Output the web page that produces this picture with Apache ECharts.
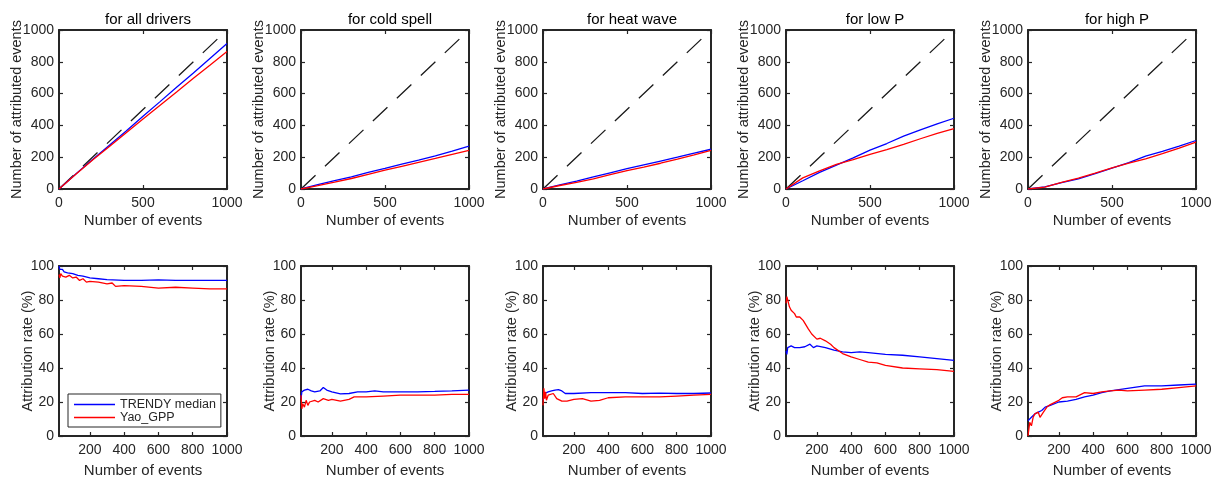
<!DOCTYPE html>
<html>
<head>
<meta charset="utf-8">
<script src="https://cdn.jsdelivr.net/npm/echarts@6/dist/echarts.min.js"></script>
<style>
  html, body { margin: 0; padding: 0; background: #fff; }
  #chart { width: 1218px; height: 479px; }
</style>
</head>
<body>
<div id="chart"></div>
<script>
// panel titles
const titles = ['for all drivers', 'for cold spell', 'for heat wave', 'for low P', 'for high P'];

// top row: cumulative number of attributed events, read at every 100 events
const countX = [0, 100, 200, 300, 400, 500, 600, 700, 800, 900, 1000];
const countTrendyAll = [0, 95, 185, 275, 365, 457, 548, 640, 730, 822, 915];
const countYaoAll = [0, 93, 182, 268, 354, 440, 525, 610, 697, 780, 865];
const countTrendyCold = [0, 27, 52, 76, 104, 130, 157, 182, 208, 238, 270];
const countYaoCold = [0, 21, 43, 66, 92, 118, 143, 168, 192, 218, 243];
const countTrendyHeat = [0, 26, 50, 76, 102, 128, 152, 176, 200, 226, 250];
const countYaoHeat = [0, 22, 42, 63, 90, 115, 138, 162, 188, 215, 243];
const countTrendyLowP = [0, 52, 105, 150, 196, 245, 286, 332, 372, 410, 445];
const countYaoLowP = [0, 70, 114, 155, 185, 218, 248, 280, 316, 350, 380];
const countTrendyHighP = [0, 14, 40, 64, 96, 132, 166, 207, 236, 270, 305];
const countYaoHighP = [0, 12, 42, 69, 100, 133, 162, 190, 222, 257, 295];

// bottom row: attribution rate (%) as [events, rate]
const rateTrendyAll = [[20, 100], [25, 98], [30, 97], [40, 98], [50, 96.5], [60, 97], [70, 96], [80, 96.5],
  [100, 95.5], [130, 94.5], [160, 94], [200, 93], [250, 92.5], [300, 92], [400, 91.5], [500, 91.5],
  [600, 91.8], [700, 91.5], [800, 91.5], [900, 91.5], [1000, 91.5]];
const rateYaoAll = [[20, 95], [25, 93], [30, 95.5], [40, 94], [50, 95], [60, 93.5], [80, 94.5], [100, 93],
  [120, 93.5], [140, 91.5], [160, 92.5], [180, 90.5], [200, 91], [250, 90.5], [300, 89.5], [330, 90],
  [350, 88], [400, 88.5], [500, 88], [600, 87], [700, 87.5], [800, 87], [900, 86.5], [1000, 86.5]];
const rateTrendyCold = [[20, 22], [25, 26], [30, 25], [40, 27], [50, 28], [60, 27.5], [80, 26.5], [100, 26],
  [130, 26.5], [150, 28.5], [170, 27], [200, 26], [250, 24.8], [300, 25], [350, 26], [400, 26],
  [450, 26.5], [500, 26], [600, 26], [700, 26], [800, 26.2], [900, 26.5], [1000, 27]];
const rateYaoCold = [[20, 24], [25, 16], [30, 19], [40, 17], [50, 21], [60, 18], [70, 20], [80, 19.5],
  [100, 21], [120, 20], [150, 22], [180, 21], [200, 21.5], [250, 20.5], [300, 21.5], [330, 23],
  [400, 23], [500, 23.5], [600, 24], [700, 24], [800, 24], [900, 24.5], [1000, 24.5]];
const rateTrendyHeat = [[20, 21], [30, 25], [40, 24], [50, 26], [70, 26.5], [90, 27], [110, 27.3], [130, 26.5],
  [150, 25], [200, 25], [300, 25.5], [400, 25.5], [500, 25.5], [600, 25], [700, 25.2], [800, 25],
  [900, 25], [1000, 25.3]];
const rateYaoHeat = [[20, 18], [25, 28], [30, 22], [35, 26], [40, 21], [50, 24], [60, 23], [80, 25],
  [100, 22], [130, 20.5], [160, 20.5], [200, 21.5], [250, 22], [300, 20.5], [350, 21], [400, 22.5],
  [500, 23], [600, 23], [700, 23], [800, 23.5], [900, 24], [1000, 24.5]];
const rateTrendyLowP = [[20, 50], [25, 48], [30, 52], [40, 51], [50, 53], [60, 54], [70, 52], [80, 53],
  [100, 52], [130, 52.5], [160, 54], [180, 52], [200, 53], [250, 52], [300, 50.5], [350, 49.5],
  [400, 49], [450, 49.5], [500, 49], [600, 48], [700, 47.5], [800, 46.5], [900, 45.5], [1000, 44.5]];
const rateYaoLowP = [[20, 78], [25, 82], [30, 80], [40, 76], [50, 74], [60, 75], [70, 72], [80, 70],
  [100, 70], [120, 68], [150, 63], [170, 60], [200, 57], [220, 57.5], [250, 56], [280, 54], [300, 52],
  [350, 48.5], [400, 46.5], [450, 45], [500, 43.5], [550, 43], [600, 41.5], [700, 40], [800, 39.5],
  [900, 39], [1000, 38]];
const rateTrendyHighP = [[20, 9], [25, 10], [30, 8], [40, 11], [50, 10], [60, 13], [80, 14], [100, 15],
  [120, 17], [150, 18], [200, 20], [250, 20.5], [300, 21.5], [350, 23], [400, 24], [450, 25.5],
  [500, 26.5], [600, 28], [700, 29.5], [800, 29.5], [900, 30], [1000, 30.5]];
const rateYaoHighP = [[20, 0], [25, 4], [30, 8], [40, 6], [50, 11], [60, 13], [70, 12], [80, 14], [90, 11],
  [100, 12], [110, 14], [130, 17], [150, 18.5], [200, 21], [220, 22.5], [250, 23], [300, 23], [350, 25.5],
  [400, 25], [450, 26], [500, 26.5], [550, 27], [600, 26.5], [700, 27], [800, 27.5], [900, 28.5], [1000, 29.5]];

const countTrendy = [countTrendyAll, countTrendyCold, countTrendyHeat, countTrendyLowP, countTrendyHighP];
const countYao = [countYaoAll, countYaoCold, countYaoHeat, countYaoLowP, countYaoHighP];
const rateTrendy = [rateTrendyAll, rateTrendyCold, rateTrendyHeat, rateTrendyLowP, rateTrendyHighP];
const rateYao = [rateYaoAll, rateYaoCold, rateYaoHeat, rateYaoLowP, rateYaoHighP];
const diagonal = [[0, 0], [1000, 1000]];

const rateXTicks = [200, 400, 600, 800, 1000];

// layout
const panelLeft = [59, 301, 543, 786, 1028];
const panelWidth = 168;
const rowTop = [30, 266];
const rowHeight = [159, 171];

const font = 'Liberation Sans, Arial, sans-serif';
const ink = '#262626';

function zip(xs, ys) {
  return xs.map((x, i) => [x, ys[i]]);
}

function axisBase(pos, label) {
  return {
    type: 'value',
    position: pos,
    splitLine: { show: false },
    axisLine: { show: true, onZero: false, lineStyle: { color: ink, width: 2 } },
    axisTick: { show: true, inside: true, length: 4, lineStyle: { color: ink, width: 1.2 } },
    axisLabel: { show: label, color: ink, fontSize: 14, fontFamily: font, formatter: v => String(v) },
    nameTextStyle: { color: ink, fontSize: 15, fontFamily: font }
  };
}

function lineSeries(name, color, xi, yi, data) {
  return {
    name: name, type: 'line', xAxisIndex: xi, yAxisIndex: yi,
    data: data, symbol: 'none', showSymbol: false,
    lineStyle: { color: color, width: 1.3 }, itemStyle: { color: color }
  };
}

const grids = [], xAxes = [], yAxes = [], series = [], titleList = [];

for (let row = 0; row < 2; row++) {
  for (let p = 0; p < 5; p++) {
    const g = grids.length;
    grids.push({ left: panelLeft[p], top: rowTop[row], width: panelWidth, height: rowHeight[row] });

    // x axes (bottom with labels, top mirror)
    ['bottom', 'top'].forEach(pos => {
      const ax = axisBase(pos, pos === 'bottom');
      ax.gridIndex = g;
      if (row === 0) {
        ax.min = 0; ax.max = 1000; ax.interval = 500;
      } else {
        ax.min = 20; ax.max = 1000;
        ax.axisLabel.customValues = rateXTicks;
        ax.axisTick.customValues = rateXTicks;
      }
      ax.axisLabel.margin = 7;
      if (pos === 'bottom') {
        ax.name = 'Number of events';
        ax.nameLocation = 'middle';
        ax.nameGap = row === 0 ? 24 : 27;
      }
      xAxes.push(ax);
    });

    // y axes (left with labels, right mirror)
    ['left', 'right'].forEach(pos => {
      const ax = axisBase(pos, pos === 'left');
      ax.gridIndex = g;
      if (row === 0) {
        ax.min = 0; ax.max = 1000; ax.interval = 200;
      } else {
        ax.min = 0; ax.max = 100; ax.interval = 20;
      }
      ax.axisLabel.margin = 5;
      if (pos === 'left') {
        ax.name = row === 0 ? 'Number of attributed events' : 'Attribution rate (%)';
        ax.nameLocation = 'middle';
        ax.nameMoveOverlap = false;
        ax.nameGap = row === 0 ? 35 : 24;
        ax.nameTextStyle.fontSize = 14.5;
      }
      yAxes.push(ax);
    });

    const xi = g * 2, yi = g * 2;
    if (row === 0) {
      titleList.push({
        text: titles[p],
        left: panelLeft[p] + panelWidth / 2,
        top: 7,
        textAlign: 'center',
        textStyle: { fontSize: 15, fontWeight: 'normal', color: '#000', fontFamily: font }
      });
      series.push({
        type: 'line', xAxisIndex: xi, yAxisIndex: yi, data: diagonal,
        symbol: 'none', silent: true,
        lineStyle: { color: '#1a1a1a', width: 1.3, type: [20, 13] }
      });
      series.push(lineSeries('TRENDY median', '#0000ff', xi, yi, zip(countX, countTrendy[p])));
      series.push(lineSeries('Yao_GPP', '#ff0000', xi, yi, zip(countX, countYao[p])));
    } else {
      series.push(lineSeries('TRENDY median', '#0000ff', xi, yi, rateTrendy[p]));
      series.push(lineSeries('Yao_GPP', '#ff0000', xi, yi, rateYao[p]));
    }
  }
}

const chart = echarts.init(document.getElementById('chart'), null, { renderer: 'canvas' });
chart.setOption({
  animation: false,
  backgroundColor: '#fff',
  title: titleList,
  grid: grids,
  xAxis: xAxes,
  yAxis: yAxes,
  legend: {
    data: [
      { name: 'TRENDY median', icon: 'rect', itemStyle: { color: '#0000ff' } },
      { name: 'Yao_GPP', icon: 'rect', itemStyle: { color: '#ff0000' } }
    ],
    orient: 'vertical',
    left: 68,
    top: 394,
    padding: [4, 5, 3, 6],
    itemGap: 0,
    itemWidth: 41,
    itemHeight: 1.3,
    backgroundColor: '#fff',
    borderColor: ink,
    borderWidth: 1,
    borderRadius: 0,
    selectedMode: false,
    textStyle: { color: ink, fontSize: 12.5, lineHeight: 13, fontFamily: font }
  },
  series: series
});
</script>
</body>
</html>
